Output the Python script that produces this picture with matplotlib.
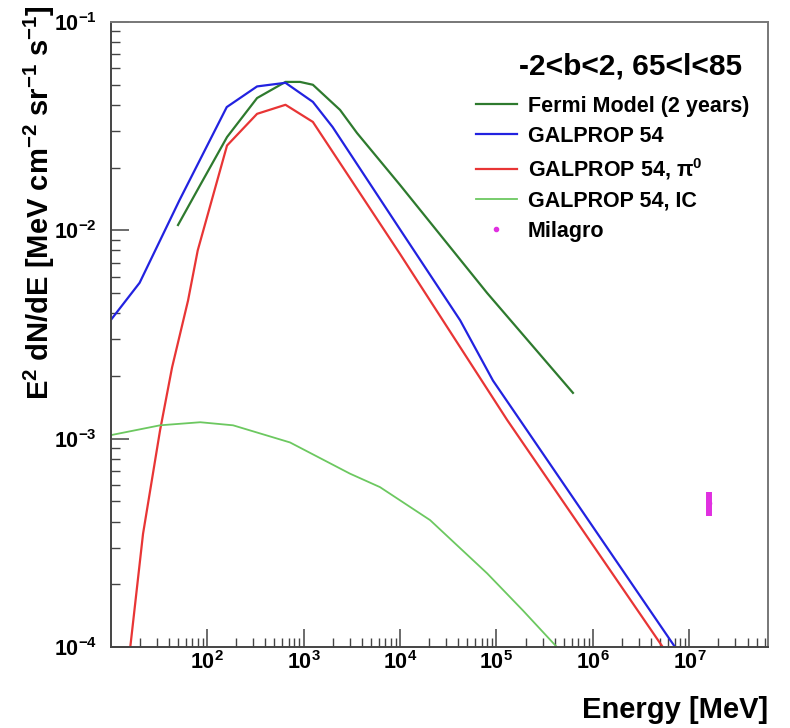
import matplotlib
matplotlib.use('Agg')
import matplotlib.pyplot as plt
from matplotlib.ticker import LogLocator, NullFormatter

plt.rcParams['font.family'] = ['Liberation Sans', 'DejaVu Sans']
plt.rcParams['font.weight'] = 'bold'
plt.rcParams['axes.labelweight'] = 'bold'
plt.rcParams['axes.unicode_minus'] = False
plt.rcParams['mathtext.default'] = 'regular'

# values (energy in MeV, E^2 dN/dE)
fermi_e = [50, 85, 161, 330, 650, 920, 1250, 2390, 3580, 1e4, 8e4, 6.2e5]
fermi_f = [0.0106, 0.0165, 0.028, 0.0431, 0.0515, 0.0515, 0.0499, 0.0378, 0.0293, 0.0165, 5.0e-3, 1.66e-3]

gal_e = [10, 20, 52, 160, 330, 650, 1250, 2000, 1e4, 4.2e4, 9.2e4, 1.75e5, 7.1e6]
gal_f = [3.7e-3, 5.6e-3, 0.014, 0.039, 0.049, 0.051, 0.0413, 0.0313, 0.0101, 3.7e-3, 1.9e-3, 1.23e-3, 1.0e-4]

pi0_e = [16, 21.7, 32.6, 43.4, 63.5, 80, 161, 330, 650, 1250, 1e4, 4.2e4, 1.29e5, 5.3e6]
pi0_f = [1.0e-4, 3.5e-4, 1.1e-3, 2.2e-3, 4.6e-3, 8.0e-3, 0.0255, 0.0362, 0.040, 0.0331, 7.7e-3, 2.75e-3, 1.23e-3, 1.0e-4]

ic_e = [10, 32.6, 85, 186, 724, 3030, 6200, 2.05e4, 8e4, 1.88e5, 4.24e5]
ic_f = [1.04e-3, 1.16e-3, 1.2e-3, 1.16e-3, 9.6e-4, 6.8e-4, 5.86e-4, 4.07e-4, 2.26e-4, 1.5e-4, 1.0e-4]

milagro_e = [1.6e7]
milagro_f = [4.9e-4]
milagro_err = [0.65e-4]

region = '-2<b<2, 65<l<85'
labels = ['Fermi Model (2 years)', 'GALPROP 54', r'GALPROP 54, $\pi^{0}$', 'GALPROP 54, IC', 'Milagro']

fig = plt.figure(figsize=(7.9, 7.28), dpi=100)
ax = fig.add_axes([0.1405, 0.111, 0.8315, 0.859])

ax.plot(fermi_e, fermi_f, color='#2e7a2e', lw=1.6, label=labels[0])
ax.plot(gal_e, gal_f, color='#2222e0', lw=1.6, label=labels[1])
ax.plot(pi0_e, pi0_f, color='#e83535', lw=1.6, label=labels[2])
ax.plot(ic_e, ic_f, color='#6cc860', lw=1.3, label=labels[3])
ax.errorbar(milagro_e, milagro_f, yerr=milagro_err, fmt='none', ecolor='#e030e0', elinewidth=4.3, capsize=0)
ax.plot(milagro_e, milagro_f, 'o', color='#e030e0', ms=3, label=labels[4])

ax.set_xscale('log')
ax.set_yscale('log')
ax.set_xlim(10.1, 6.5e7)
ax.set_ylim(1e-4, 1e-1)

ax.set_xticks([1e2, 1e3, 1e4, 1e5, 1e6, 1e7])
ax.xaxis.set_minor_locator(LogLocator(base=10, subs=range(2, 10), numticks=20))
ax.xaxis.set_minor_formatter(NullFormatter())
ax.set_yticks([1e-4, 1e-3, 1e-2, 1e-1])
ax.yaxis.set_minor_locator(LogLocator(base=10, subs=range(2, 10), numticks=20))
ax.yaxis.set_minor_formatter(NullFormatter())

ax.tick_params(which='both', direction='in', top=False, right=False, color='#444444')
ax.tick_params(which='major', length=13, width=1.1, labelsize=15.5)
ax.tick_params(which='minor', length=6.5, width=1.0)
ax.tick_params(axis='y', pad=10)
ax.tick_params(axis='x', pad=3)

for s in ['left', 'bottom']:
    ax.spines[s].set_color('#444444')
    ax.spines[s].set_linewidth(1.4)
for s in ['top', 'right']:
    ax.spines[s].set_color('#777777')
    ax.spines[s].set_linewidth(1.4)

ax.set_xlabel('Energy [MeV]', fontsize=21, loc='right', labelpad=16)
ax.set_ylabel(r'E$^{2}$ dN/dE [MeV cm$^{-2}$ sr$^{-1}$ s$^{-1}$]', fontsize=21, loc='top')
ax.yaxis.set_label_coords(-0.082, 1.027)

ax.text(0.9604, 0.928, region, transform=ax.transAxes, ha='right', va='center',
        fontsize=21.5, fontweight='bold')
ax.legend(loc='upper left', bbox_to_anchor=(0.5556, 0.882), frameon=False,
          fontsize=15.5, handlelength=1.9, handletextpad=0.5, labelspacing=0.42,
          borderpad=0, borderaxespad=0)

fig.savefig('out.png', dpi=100)
